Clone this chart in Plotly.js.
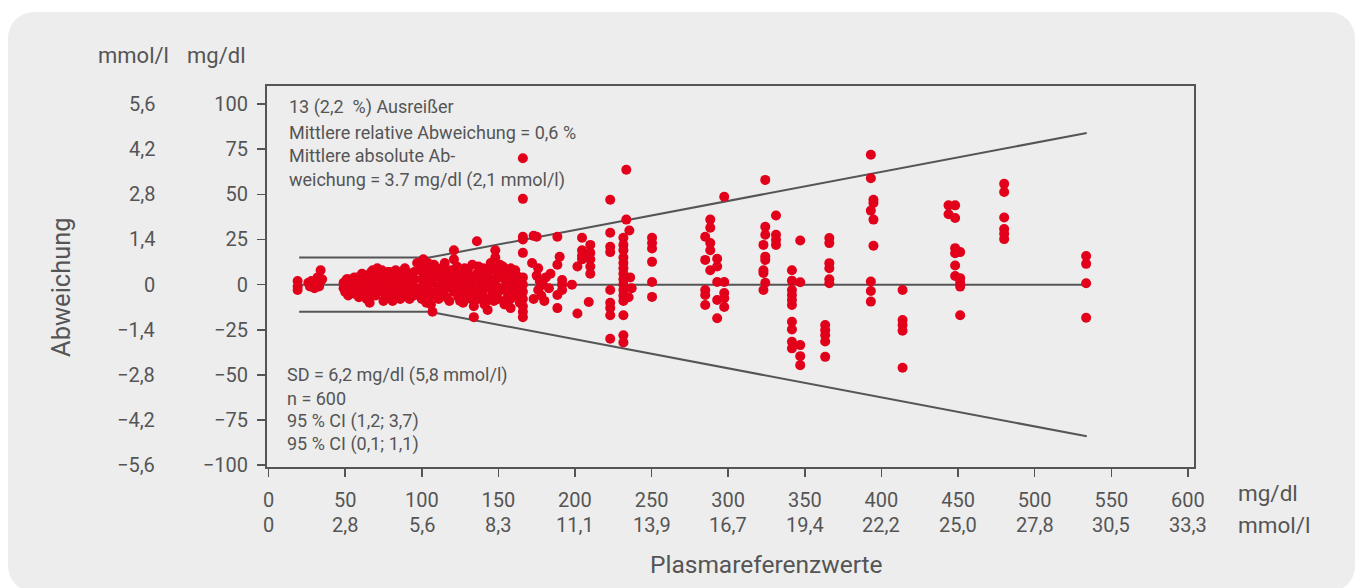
<!DOCTYPE html>
<html>
<head>
<meta charset="utf-8">
<script src="https://cdn.plot.ly/plotly-3.0.1.min.js"></script>
<style>
html,body{margin:0;padding:0;background:#ffffff;}
#wrap{position:relative;width:1363px;height:588px;overflow:hidden;}
#card{position:absolute;left:8px;top:12px;width:1347px;height:580px;background:#ededed;border-radius:26px;}
#chart{position:absolute;left:0;top:0;width:1363px;height:588px;}
</style>
</head>
<body>
<div id="wrap"><div id="card"></div><div id="chart"></div></div>
<script>
// ---- tick labels ----
const mgTicksX = [0,50,100,150,200,250,300,350,400,450,500,550,600];
const mmolTicksX = ["0","2,8","5,6","8,3","11,1","13,9","16,7","19,4","22,2","25,0","27,8","30,5","33,3"];
const mgTicksY = [100,75,50,25,0,-25,-50,-75,-100];
const mgTickTextY = ["100","75","50","25","0","−25","−50","−75","−100"];
const mmolTickTextY = ["5,6","4,2","2,8","1,4","0","−1,4","−2,8","−4,2","−5,6"];

// ---- limit lines ----
const limitX = [20,105,534];
const upperY = [15,15,84];
const lowerY = [-15,-15,-84];
const centerX = [20,534];
const centerY = [0,0];

// ---- data points (reference mg/dl, deviation mg/dl) ----
const xA = [19,19,19,26,27,28,30,31,32,33,34,34,35];
const yA = [2,-1,-3,1,-1,2,-2,0,4,-1,2,8,3];

const xB = [49,49,50,51,52,53,54,55,56,57,58,58,59,
  61,62,63,64,65,66,67,68,69,70,70,71,72,73,74,75,76,77,78,79,80,81,82,83,84,85,86,87,88,89,90,91,92,93,94,95,95,
  63,66,72,75,79,83,86,90,93,68,77,81];
const yB = [-2,1,-4,3,-6,0,2,-3,-5,1,-1,4,-7,
  6,-2,2,-8,0,4,-4,8,-1,3,-6,9,-3,1,5,-9,-1,2,7,-5,0,4,-2,8,-7,1,-3,5,-1,9,-4,2,-8,6,0,3,-6,
  -5,-10,6,4,7,-4,7,6,-3,-2,-7,-9];

const xB2 = [50,52,54,56,58,60,62,64,66,68,70,72,74,76,78,80,82,84,86,88,90,92,94,96,
  51,55,59,63,67,71,75,79,83,87,91,95];
const yB2 = [0,3,-2,4,-4,1,-5,5,-1,-6,2,-2,8,-5,-3,6,-6,3,-8,5,1,3,-2,-4,
  -1,-1,2,-3,7,1,-3,4,1,-6,-7,7];

const xC = [97,98,99,100,100,101,101,102,102,103,103,104,104,105,105,106,106,107,108,108,109,110,110,111,111];
const yC = [12,-2,8,-8,3,14,-5,0,10,-10,5,-3,12,7,-7,1,-11,-15,11,4,-4,9,-1,6,-8];

const xD = [113,114,115,116,117,118,119,120,121,121,121,122,123,124,125,126,127,128,129,130,131,132,133,134,134,135,136,136,137,138,139,140,141,142,143,143,144,145,146,147,148,148,148,149,150,151,152,153,154,155,156,157,158,158,158,158,158,160,161,162,163,164];
const yD = [2,-6,8,-2,4,-9,0,6,19,14,-4,2,10,-7,-1,5,-10,3,-3,8,-6,1,11,-12,-18,-2,24,6,-8,2,-4,9,0,-9,-14,5,-2,12,-6,3,19,15,8,-1,-8,4,-3,10,-11,1,6,-5,9,3,-3,-8,-13,0,-6,5,-2,-10];

const xD2 = [112,114,116,118,120,122,124,126,128,130,132,134,136,138,140,142,144,146,148,150,152,154,156,160,162,164,
  115,119,125,131,137,141,147,151,157,161];
const yD2 = [-3,3,-7,5,-1,7,2,-5,9,-2,-8,4,-4,7,-6,3,8,1,-5,-3,7,4,-7,3,-4,1,
  12,8,-9,5,10,-11,-9,11,-1,8];

const xE = [166,166,166,166,166,166,166,166,166,166,166,166,173,175,172,173,175,176,176,177,178,179,180,181,183,184];
const yE = [70,47.5,26.5,25,17.6,4,0,-4,-8,-12,-15,-18,27,26.5,12,-8,5,9,-3,2,-6,0,-9,4,-2,6];

const xF = [188.5,188.5,190,188.5,188.5,191.6,191.6,191.6,198,201.6,201.6,204.6,204.6,204.6,204.6,210,210,210,210,210,209,
  223,223,223,223,223,223,223,223,223,
  231.6,231.6,231.6,231.6,231.6,231.6,231.6,231.6,231.6,231.6,231.6,231.6,231.6,231.6,231.6,
  233.5,233.5,235.5,236,237,235];
const yF = [26.5,11,15.4,-5.7,-13,2.6,0,-3,0,10,-16,26,19,16,14,22,17.6,14,10,6,-9.6,
  47,28.7,21,18,-3,-10,-13,-17,-30,
  26,22,19,15,12,9,6,3,0,-3,-6,-9,-17,-28,-32,
  63.6,36,30,4,-2,-7];

const xG = [250.3,250.3,250.3,250.3,250.3,250.3,
  297.4,288.3,288.3,285,288.3,288.3,285,292.8,292.8,288.3,292.8,297.4,285,285,285,292.8,292.8,297.4,297.4,297.4];
const yG = [26,23,20,12.6,1.5,-6.8,
  48.7,36,31.5,26.5,23,19,13.7,14.3,10,8,1.5,1.5,-3,-5.7,-11.3,-8.5,-18.6,-4.7,-7.5,-12.4];

const xH = [324.2,331.2,324.2,324.2,331.2,331.2,331.2,323,324.2,324.2,323,323,324.2,323,
  341.6,341.6,347,347,341.6,341.6,341.6,341.6,341.6,341.6,341.6,341.6,347,347,347,
  366,366,366,366,366,366,363.3,363.3,363.3,363.3,363.3];
const yH = [58,38.3,32,27.6,27.6,24.8,22,22,15.5,13.7,8,6.5,1,-3,
  8,2.2,1.3,24.4,-3,-5.7,-8.5,-11.3,-20.6,-24.8,-31.7,-35.3,-33.5,-39.6,-44.6,
  25.8,23,11.9,9.1,3,0.8,-22.4,-25.2,-28,-31.5,-40];

const xI = [393.1,393.1,394.8,394.8,393.1,394.8,394.8,393.1,393.1,393.1,
  413.8,413.8,413.8,413.8,413.8,
  443.8,448.1,443.8,448.1,448.1,451.4,448.1,448.1,448.1,451.4,451.4,451.4,451.4,
  480.1,480.1,480.1,480.1,480.1,480.1,
  533.6,533.6,533.6,533.6];
const yI = [71.9,58.9,47,45.2,41,36,21.5,1.7,-3.5,-9.4,
  -3,-19.6,-22.4,-25.5,-46,
  43.9,43.9,39,36.9,20.2,18,17.4,10.6,4.8,3.6,1.1,-1.1,-17,
  55.8,51.3,37.2,30.8,28.2,25.2,
  15.9,11.5,0.8,-18.3];

const textTop = ["13 (2,2  %) Ausreißer","Mittlere relative Abweichung = 0,6 %","Mittlere absolute Ab-","weichung = 3.7 mg/dl (2,1 mmol/l)"];
const textBottom = ["SD = 6,2 mg/dl (5,8 mmol/l)","n = 600","95 % CI (1,2; 3,7)","95 % CI (0,1; 1,1)"];

// ---- build ----
const allX = [].concat(xA,xB,xB2,xC,xD,xD2,xE,xF,xG,xH,xI);
const allY = [].concat(yA,yB,yB2,yC,yD,yD2,yE,yF,yG,yH,yI);

const FONT = "Roboto, 'Liberation Sans', sans-serif";
const TXT = "#555555";
const LINE = "#555555";
const RED = "#e2001a";

const L = 267, R = 1194, T = 86, B = 467;
const W = 1363, H = 588;
const px = v => (v - L) / (R - L);
const py = v => (B - v) / (B - T);

const traces = [
  {x: limitX, y: upperY, mode: "lines", line: {color: LINE, width: 2}, hoverinfo: "skip", showlegend: false},
  {x: limitX, y: lowerY, mode: "lines", line: {color: LINE, width: 2}, hoverinfo: "skip", showlegend: false},
  {x: centerX, y: centerY, mode: "lines", line: {color: LINE, width: 2}, hoverinfo: "skip", showlegend: false},
  {x: allX, y: allY, mode: "markers", type: "scatter",
   marker: {color: RED, size: 10, line: {width: 0}}, showlegend: false}
];

const ann = [];
const f = (s) => ({family: FONT, size: s, color: TXT});
// x mmol row
mgTicksX.forEach((v, i) => ann.push({x: v, xref: "x", y: py(525), yref: "paper", text: mmolTicksX[i],
  showarrow: false, xanchor: "center", yanchor: "middle", font: f(20)}));
// y mmol column
mgTicksY.forEach((v, i) => ann.push({x: px(157), xref: "paper", y: v, yref: "y", text: mmolTickTextY[i],
  showarrow: false, xanchor: "right", yanchor: "middle", font: f(20)}));
// units
ann.push({x: px(1236), xref: "paper", y: py(493), yref: "paper", text: "mg/dl", showarrow: false, xanchor: "left", yanchor: "middle", font: f(22.5)});
ann.push({x: px(1236), xref: "paper", y: py(525), yref: "paper", text: "mmol/l", showarrow: false, xanchor: "left", yanchor: "middle", font: f(22.5)});
ann.push({x: px(96), xref: "paper", y: py(56), yref: "paper", text: "mmol/l", showarrow: false, xanchor: "left", yanchor: "middle", font: f(22)});
ann.push({x: px(185), xref: "paper", y: py(56), yref: "paper", text: "mg/dl", showarrow: false, xanchor: "left", yanchor: "middle", font: f(22)});
// axis titles
ann.push({x: px(766), xref: "paper", y: py(564), yref: "paper", text: "Plasmareferenzwerte", showarrow: false, xanchor: "center", yanchor: "middle", font: f(24.5)});
ann.push({x: px(61), xref: "paper", y: py(287), yref: "paper", text: "Abweichung", textangle: -90, showarrow: false, xanchor: "center", yanchor: "middle", font: f(25.5)});
// stats text
const topY = [107, 132, 155, 180];
textTop.forEach((t, i) => ann.push({x: px(287), xref: "paper", y: py(topY[i]), yref: "paper", text: t, showarrow: false, xanchor: "left", yanchor: "middle", font: f(18)}));
const botY = [375, 398, 421, 444];
textBottom.forEach((t, i) => ann.push({x: px(285), xref: "paper", y: py(botY[i]), yref: "paper", text: t, showarrow: false, xanchor: "left", yanchor: "middle", font: f(18)}));

const layout = {
  width: W, height: H,
  margin: {l: L, r: W - R, t: T, b: H - B, pad: 0},
  paper_bgcolor: "rgba(0,0,0,0)",
  plot_bgcolor: "rgba(0,0,0,0)",
  showlegend: false,
  font: {family: FONT, color: TXT},
  xaxis: {
    range: [-1, 604], tickvals: mgTicksX, ticktext: mgTicksX.map(String),
    ticks: "outside", ticklen: 8, tickwidth: 1.5, tickcolor: LINE,
    showline: true, mirror: true, linecolor: LINE, linewidth: 2,
    showgrid: false, zeroline: false, ticklabelstandoff: 6,
    tickfont: {family: FONT, size: 20, color: TXT}, fixedrange: true
  },
  yaxis: {
    range: [-101, 110], tickvals: mgTicksY, ticktext: mgTickTextY,
    ticks: "outside", ticklen: 8, tickwidth: 1.5, tickcolor: LINE,
    showline: true, mirror: true, linecolor: LINE, linewidth: 2,
    showgrid: false, zeroline: false, ticklabelstandoff: 5,
    tickfont: {family: FONT, size: 20, color: TXT}, fixedrange: true
  },
  annotations: ann
};

Plotly.newPlot("chart", traces, layout, {displayModeBar: false, staticPlot: true});
</script>
</body>
</html>
